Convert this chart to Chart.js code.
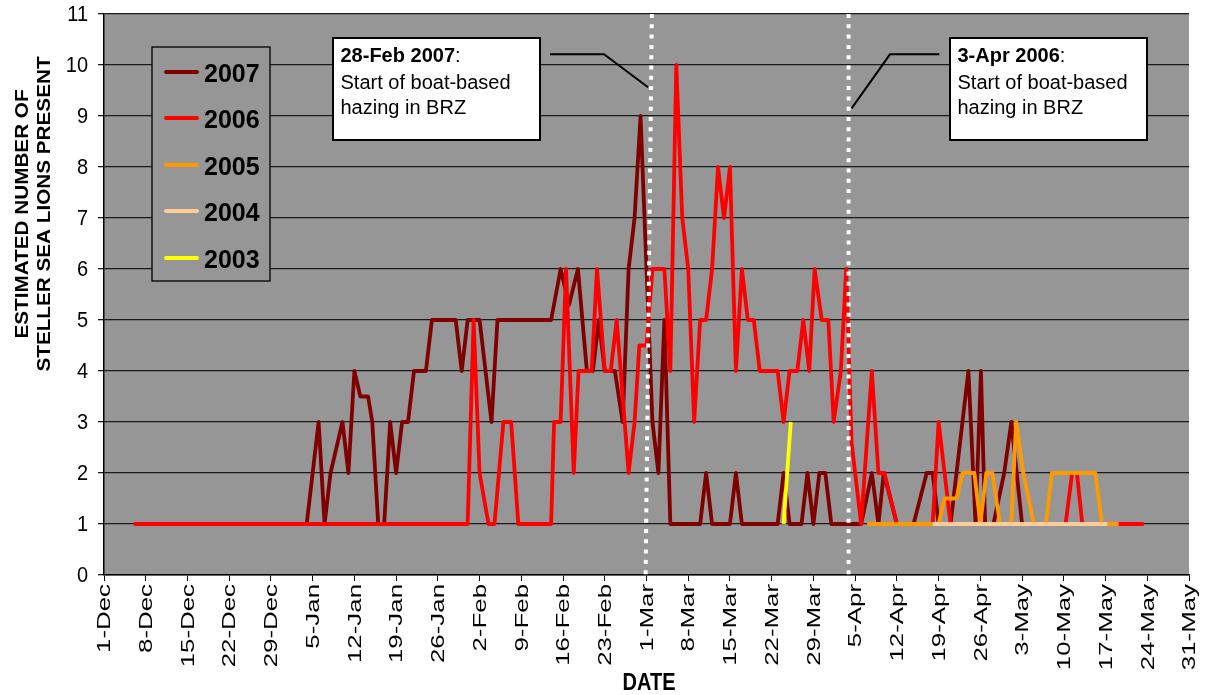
<!DOCTYPE html>
<html>
<head>
<meta charset="utf-8">
<script src="https://cdn.jsdelivr.net/npm/chart.js@4.4.1/dist/chart.umd.min.js"></script>
<style>
  html, body { margin: 0; padding: 0; background: #fff; }
  #wrap { width: 1206px; height: 695px; position: relative; }
</style>
</head>
<body>
<div id="wrap"><canvas id="lineChart"></canvas></div>
<script>
// days counted from 1-Dec (leap-year calendar, so 1-Mar = day 91)
const dateLabels = ['1-Dec', '8-Dec', '15-Dec', '22-Dec', '29-Dec', '5-Jan', '12-Jan', '19-Jan', '26-Jan',
  '2-Feb', '9-Feb', '16-Feb', '23-Feb', '1-Mar', '8-Mar', '15-Mar', '22-Mar', '29-Mar', '5-Apr',
  '12-Apr', '19-Apr', '26-Apr', '3-May', '10-May', '17-May', '24-May', '31-May'];
const yLabels = ['0', '1', '2', '3', '4', '5', '6', '7', '8', '9', '10', '11'];

const days2007 = [9, 34, 36, 37, 38, 40, 41, 42, 43, 44.3, 45, 46, 47, 48, 49, 50, 51, 52, 54, 55, 59, 60, 61, 63, 65, 66,
  75, 76.6, 78, 79.5, 81, 82, 83, 84, 85.7, 87, 88, 89, 90, 92, 93, 94, 95, 100, 101, 102, 105, 106, 107, 113, 114, 115,
  117, 118, 119, 120, 121, 122, 127, 128.8, 129.9, 130.8, 133, 135.8, 138, 139, 140, 142, 145, 146.2, 147.1, 147.8,
  149.2, 151, 152.2, 154];
const count2007 = [1, 1, 3, 1, 2, 3, 2, 4, 3.5, 3.5, 3, 1, 1, 3, 2, 3, 3, 4, 4, 5, 5, 4, 5, 5, 3, 5,
  5, 6, 5.3, 6, 4, 4, 5, 4, 4, 3, 6, 7, 9, 3, 2, 5, 1, 1, 2, 1, 1, 2, 1, 1, 2, 1,
  1, 2, 1, 2, 2, 1, 1, 2, 1, 2, 1, 1, 2, 2, 1, 1, 4, 1, 4, 1,
  1, 2, 3, 1];

const days2006 = [5, 61, 62, 63, 64.5, 65.5, 67, 68.3, 69.5, 75, 75.5, 76.6, 77.5, 78.8, 79.6, 81.8, 82.7, 84, 85, 86,
  88, 89, 89.8, 91, 92, 94, 95, 96, 97, 98, 99, 100, 101, 102, 103, 104, 105, 106, 107, 108, 109, 110, 113, 114,
  115, 116.3, 117.3, 118.3, 119.2, 120.4, 121.5, 122.4, 123.6, 124.5, 125.4, 127, 128.8, 129.9, 130.9, 133, 139,
  140, 142, 161.3, 162.4, 163.2, 164.1, 174.4];
const count2006 = [1, 1, 5, 2, 1, 1, 3, 3, 1, 1, 3, 3, 6, 2, 4, 4, 6, 4, 4, 5,
  2, 3, 4.5, 4.5, 6, 6, 4, 10, 7, 6, 3, 5, 5, 6, 8, 7, 8, 4, 6, 5, 5, 4, 4, 3,
  4, 4, 5, 4, 6, 5, 5, 3, 4, 6, 2.6, 1, 4, 2, 2, 1, 1,
  3, 1, 1, 2, 2, 1, 1];

const days2005 = [128, 140, 141, 143, 144, 146, 147, 148, 149, 150.3, 152.2, 153, 154.2, 156, 158, 159, 166.3, 167.4, 170.2];
const count2005 = [1, 1, 1.5, 1.5, 2, 2, 1, 2, 2, 1, 1, 3, 2, 1, 1, 2, 2, 1, 1];

const days2004 = [139, 168.3];
const count2004 = [1, 1];

const days2003 = [114, 115.2];
const count2003 = [1, 3];

// start of boat-based hazing (dotted markers), day at top and bottom of the plot
const hazing2007 = [91.9, 90.85];
const hazing2006 = [124.9, 124.9];

const plotGray = '#969696';
const font = "'Liberation Sans', Arial, sans-serif";

function pts(days, counts) {
  return days.map((d, i) => ({ x: d, y: counts[i] }));
}

const series = [
  { label: '2007', color: '#800000', data: pts(days2007, count2007), order: 5 },
  { label: '2006', color: '#FF0000', data: pts(days2006, count2006), order: 4 },
  { label: '2005', color: '#FF9900', data: pts(days2005, count2005), order: 3 },
  { label: '2004', color: '#FFCC99', data: pts(days2004, count2004), order: 2 },
  { label: '2003', color: '#FFFF00', data: pts(days2003, count2003), order: 1 }
];

function callout(ctx, lines, box, path) {
  ctx.fillStyle = '#fff';
  ctx.fillRect(box.x, box.y, box.w, box.h);
  ctx.strokeStyle = '#000';
  ctx.lineWidth = 2;
  ctx.strokeRect(box.x, box.y, box.w, box.h);
  ctx.fillStyle = '#000';
  ctx.textAlign = 'left';
  ctx.textBaseline = 'alphabetic';
  const tx = box.x + 7.5;
  ctx.font = 'bold 20px ' + font;
  ctx.fillText(lines[0], tx, box.y + 23.5);
  const w = ctx.measureText(lines[0]).width;
  ctx.font = '20px ' + font;
  ctx.fillText(':', tx + w, box.y + 23.5);
  ctx.fillText(lines[1], tx, box.y + 51);
  ctx.fillText(lines[2], tx, box.y + 76.3);
  ctx.beginPath();
  ctx.moveTo(path[0][0], path[0][1]);
  for (let i = 1; i < path.length; i++) ctx.lineTo(path[i][0], path[i][1]);
  ctx.lineWidth = 2;
  ctx.stroke();
}

const stellerPlugin = {
  id: 'steller',
  beforeDraw(chart) {
    const { ctx, chartArea: a } = chart;
    ctx.save();
    ctx.fillStyle = '#fff';
    ctx.fillRect(0, 0, chart.width, chart.height);
    ctx.fillStyle = plotGray;
    ctx.fillRect(a.left, a.top, a.right - a.left, a.bottom - a.top);
    ctx.restore();
  },
  afterDatasetsDraw(chart) {
    const { ctx, chartArea: a } = chart;
    const xs = chart.scales.x;
    ctx.save();

    // dotted white markers
    ctx.strokeStyle = '#fff';
    ctx.lineWidth = 4;
    ctx.lineCap = 'butt';
    ctx.setLineDash([4, 6.3]);
    [hazing2007, hazing2006].forEach(h => {
      ctx.beginPath();
      ctx.moveTo(xs.getPixelForValue(h[0]), a.top);
      ctx.lineTo(xs.getPixelForValue(h[1]), a.bottom);
      ctx.stroke();
    });
    ctx.setLineDash([]);

    // legend box
    ctx.fillStyle = plotGray;
    ctx.fillRect(152, 47, 118, 234);
    ctx.strokeStyle = '#000';
    ctx.lineWidth = 1.3;
    ctx.strokeRect(152, 47, 118, 234);
    const rows = [72, 118, 165, 211, 258];
    series.forEach((s, i) => {
      ctx.beginPath();
      ctx.moveTo(166, rows[i]);
      ctx.lineTo(197, rows[i]);
      ctx.strokeStyle = s.color;
      ctx.lineWidth = 4;
      ctx.lineCap = 'round';
      ctx.stroke();
      ctx.fillStyle = '#000';
      ctx.font = 'bold 25px ' + font;
      ctx.textAlign = 'left';
      ctx.textBaseline = 'alphabetic';
      ctx.fillText(s.label, 204, rows[i] + 9.5);
    });
    ctx.lineCap = 'butt';

    // annotation boxes
    const y7 = 87.3, y6 = 108.3;
    const tip7 = xs.getPixelForValue(hazing2007[0]) + (xs.getPixelForValue(hazing2007[1]) - xs.getPixelForValue(hazing2007[0])) * (y7 - a.top) / (a.bottom - a.top);
    const tip6 = xs.getPixelForValue(hazing2006[0]) + 3;
    callout(ctx, ['28-Feb 2007', 'Start of boat-based', 'hazing in BRZ'],
      { x: 333, y: 38, w: 207, h: 102 },
      [[550, 54.3], [604, 54.3], [tip7 - 3, y7]]);
    callout(ctx, ['3-Apr 2006', 'Start of boat-based', 'hazing in BRZ'],
      { x: 950, y: 38, w: 197, h: 102 },
      [[939.3, 54.3], [890, 54.3], [tip6, y6]]);
    ctx.restore();
  },
  afterDraw(chart) {
    const { ctx, chartArea: a } = chart;
    const xs = chart.scales.x, ys = chart.scales.y;
    ctx.save();
    ctx.fillStyle = '#000';

    // date tick labels (rotated)
    ctx.font = '19px ' + font;
    ctx.textAlign = 'right';
    ctx.textBaseline = 'middle';
    xs.ticks.forEach(t => {
      const lbl = dateLabels[Math.round(t.value / 7)];
      if (!lbl) return;
      ctx.save();
      ctx.translate(xs.getPixelForValue(t.value) + 1, a.bottom + 9);
      ctx.rotate(-Math.PI / 2);
      ctx.scale(1.36, 1);
      ctx.fillText(lbl, 0, 0);
      ctx.restore();
    });

    // count tick labels
    ctx.font = '20px ' + font;
    ctx.textAlign = 'right';
    ys.ticks.forEach(t => {
      ctx.save();
      ctx.translate(a.left - 16, ys.getPixelForValue(t.value) + 1);
      ctx.scale(1, 1.12);
      ctx.fillText(yLabels[t.value], 0, 0);
      ctx.restore();
    });

    // axis titles
    ctx.font = 'bold 20px ' + font;
    ctx.textAlign = 'center';
    ctx.save();
    ctx.translate(649, 684);
    ctx.scale(1, 1.15);
    ctx.fillText('DATE', 0, 0);
    ctx.restore();

    ctx.font = 'bold 18px ' + font;
    [['ESTIMATED NUMBER OF', 23], ['STELLER SEA LIONS PRESENT', 45]].forEach(([txt, x]) => {
      ctx.save();
      ctx.translate(x, 214);
      ctx.rotate(-Math.PI / 2);
      ctx.scale(1.15, 1);
      ctx.fillText(txt, 0, 0);
      ctx.restore();
    });
    ctx.restore();
  }
};

const config = {
  type: 'line',
  data: {
    datasets: series.map(s => ({
      label: s.label,
      data: s.data,
      borderColor: s.color,
      backgroundColor: s.color,
      borderWidth: 3.8,
      pointRadius: 0,
      tension: 0,
      fill: false,
      borderJoinStyle: 'round',
      order: s.order
    }))
  },
  options: {
    responsive: true,
    maintainAspectRatio: false,
    animation: false,
    devicePixelRatio: 1,
    layout: { padding: { left: 98, right: 17, top: 14, bottom: 114 } },
    plugins: { legend: { display: false }, tooltip: { enabled: false } },
    scales: {
      x: {
        type: 'linear',
        min: 0,
        max: 182,
        ticks: { display: false, stepSize: 7 },
        grid: { drawOnChartArea: false, drawTicks: true, tickLength: 6, color: '#000', lineWidth: 1 },
        border: { color: '#000', width: 1.5 }
      },
      y: {
        min: 0,
        max: 11,
        ticks: { display: false, stepSize: 1 },
        grid: { color: '#1a1a1a', lineWidth: 1.3, tickLength: 6 },
        border: { color: '#000', width: 1.5 }
      }
    }
  },
  plugins: [stellerPlugin]
};

const sealionChart = new Chart(document.getElementById('lineChart'), config);
</script>
</body>
</html>
